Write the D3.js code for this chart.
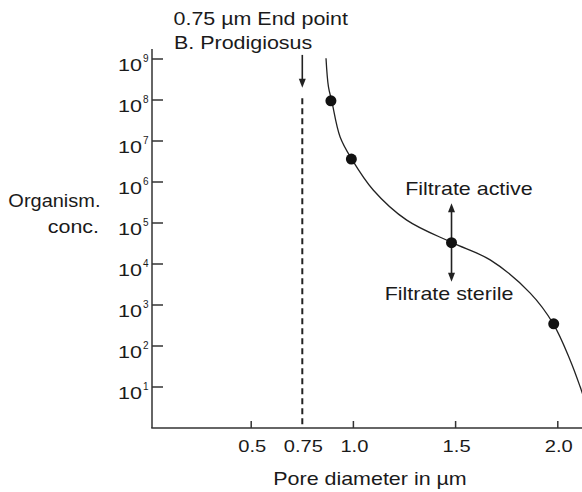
<!DOCTYPE html>
<html>
<head>
<meta charset="utf-8">
<script src="https://cdn.jsdelivr.net/npm/d3@7"></script>
<style>
	body { margin: 0; background: #fff; }
	text { font-family: "Liberation Sans", Arial, sans-serif; fill: #1a1a1a; }
</style>
</head>
<body>
<div class="chart"></div>
<script>
// curve: pore diameter (um) vs log10 of organism conc.
const curveX = [0.866, 0.878, 0.894, 0.935, 0.992, 1.098, 1.261, 1.483, 1.669, 1.865, 1.978, 2.060, 2.109, 2.135];
const curveExp = [9.02, 8.32, 7.98, 7.10, 6.56, 5.80, 5.07, 4.52, 4.10, 3.29, 2.54, 1.66, 1.01, 0.62];

// measured points
const pointX = [0.89, 0.99, 1.48, 1.98];
const pointExp = [7.98, 6.56, 4.52, 2.54];

const xTicks = [0.5, 0.75, 1.0, 1.5, 2.0];
const xTickMarks = [0.5, 1.0, 1.5, 2.0];
const yExps = [1, 2, 3, 4, 5, 6, 7, 8, 9];

const endPoint = 0.75;

let width = 582, height = 492;

let svg = d3.select(".chart")
	.append("svg")
	.attr("width", width)
	.attr("height", height);

let x = d3.scaleLinear().domain([0, 2.15]).range([149, 149 + 2.15 * 204.4]);
let y = d3.scaleLog().domain([1, 1e9]).range([428, 59]);
let ye = e => y(Math.pow(10, e));

let axisX = 152;

// letters in the picture are wider than Arial, hence the x stretch
function label(tx, ty, str, anchor, sx) {
	return svg.append("text")
		.attr("transform", "translate(" + tx + "," + ty + ") scale(" + (sx || 1.16) + ",1)")
		.attr("text-anchor", anchor || "start")
		.style("font-size", "18.5px")
		.text(str);
}

// axes lines
svg.append("line")
	.attr("x1", axisX).attr("x2", axisX)
	.attr("y1", 49).attr("y2", y(1))
	.attr("stroke", "#333").attr("stroke-width", 1.5);
svg.append("line")
	.attr("x1", axisX - 0.75).attr("x2", width)
	.attr("y1", y(1)).attr("y2", y(1))
	.attr("stroke", "#333").attr("stroke-width", 1.5);

// y ticks (inward)
svg.selectAll(".ytick")
	.data(yExps)
	.enter().append("line")
	.attr("class", "ytick")
	.attr("x1", axisX).attr("x2", axisX + 11)
	.attr("y1", d => ye(d)).attr("y2", d => ye(d))
	.attr("stroke", "#333").attr("stroke-width", 1.5);

let ylab = svg.selectAll(".ylab")
	.data(yExps)
	.enter().append("g")
	.attr("class", "ylab")
	.attr("transform", d => "translate(0," + ye(d) + ")");
ylab.append("text")
	.attr("x", 118).attr("y", 11.5)
	.attr("textLength", 24)
	.attr("lengthAdjust", "spacingAndGlyphs")
	.style("font-size", "17px")
	.text("10");
ylab.append("text")
	.attr("x", 143).attr("y", 3)
	.style("font-size", "10px")
	.text(d => d);

// x ticks (inward)
svg.selectAll(".xtick")
	.data(xTickMarks)
	.enter().append("line")
	.attr("class", "xtick")
	.attr("x1", d => x(d)).attr("x2", d => x(d))
	.attr("y1", y(1)).attr("y2", y(1) - 7)
	.attr("stroke", "#333").attr("stroke-width", 1.5);

svg.selectAll(".xlab")
	.data(xTicks)
	.enter().append("text")
	.attr("class", "xlab")
	.attr("x", d => x(d) + 1)
	.attr("y", 452)
	.attr("text-anchor", "middle")
	.attr("textLength", d => d === 0.75 ? 39 : 28)
	.attr("lengthAdjust", "spacingAndGlyphs")
	.style("font-size", "17px")
	.text(d => d === 0.75 ? "0.75" : d.toFixed(1));

// axis titles
label(370, 485, "Pore diameter in \u00b5m", "middle");
label(100.5, 207, "Organism.", "end", 1.08);
label(99, 233, "conc.", "end");

// end point marker
label(173.5, 25, "0.75 \u00b5m End point");
label(174, 48.5, "B. Prodigiosus");

svg.append("line")
	.attr("x1", x(endPoint)).attr("x2", x(endPoint))
	.attr("y1", ye(8.04)).attr("y2", y(1))
	.attr("stroke", "#222").attr("stroke-width", 2)
	.attr("stroke-dasharray", "6,4");

function arrow(xp, y0, y1) {
	let dir = y1 > y0 ? 1 : -1;
	svg.append("line")
		.attr("x1", xp).attr("x2", xp)
		.attr("y1", y0).attr("y2", y1 - dir * 6)
		.attr("stroke", "#222").attr("stroke-width", 1.6);
	svg.append("path")
		.attr("d", "M" + (xp - 3.5) + "," + (y1 - dir * 9) + "L" + (xp + 3.5) + "," + (y1 - dir * 9) + "L" + xp + "," + y1 + "Z")
		.attr("fill", "#222");
}

arrow(x(endPoint), ye(9.1), ye(8.3));

// curve
let pts = curveX.map((d, i) => [x(d), ye(curveExp[i])]);
svg.append("path")
	.attr("d", d3.line().curve(d3.curveCatmullRom.alpha(0.5))(pts))
	.attr("fill", "none")
	.attr("stroke", "#222")
	.attr("stroke-width", 1.3);

// filtrate arrows from the 1.5 um point
arrow(x(pointX[2]), ye(pointExp[2]), ye(5.48));
arrow(x(pointX[2]), ye(pointExp[2]), ye(3.57));
label(469, 194.5, "Filtrate active", "middle");
label(449, 300, "Filtrate sterile", "middle");

svg.selectAll(".pt")
	.data(pointX)
	.enter().append("circle")
	.attr("class", "pt")
	.attr("cx", d => x(d))
	.attr("cy", (d, i) => ye(pointExp[i]))
	.attr("r", 5.5)
	.attr("fill", "#111");
</script>
</body>
</html>
